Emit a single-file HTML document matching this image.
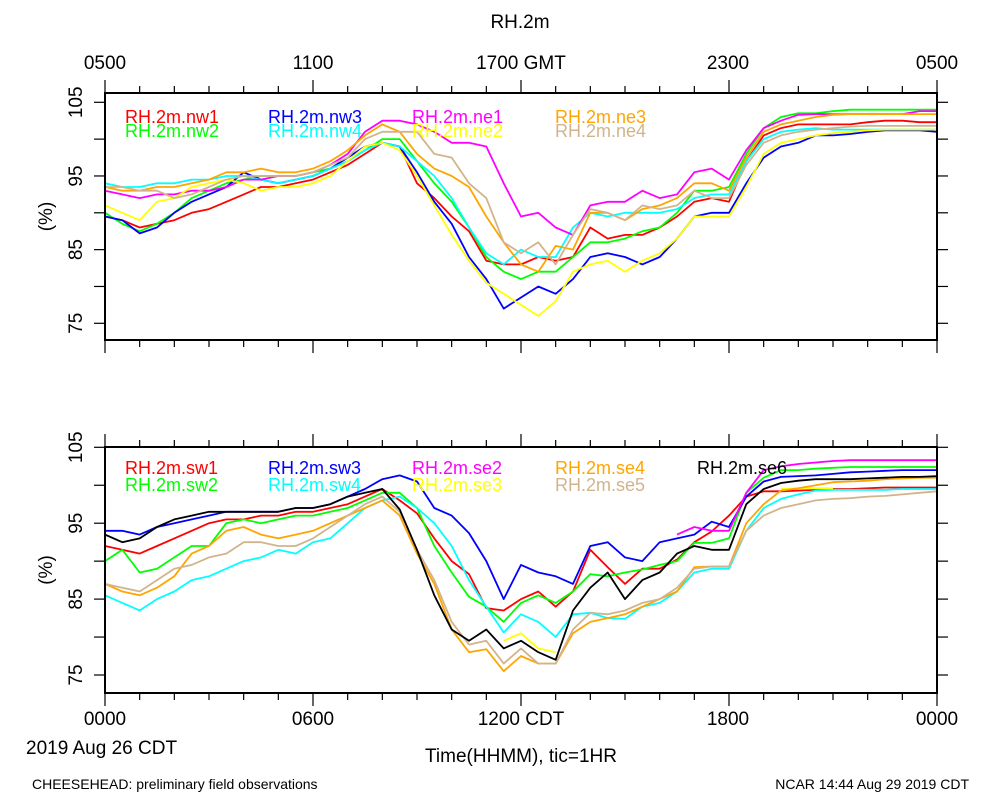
<!DOCTYPE html>
<html><head><meta charset="utf-8"><style>
body{margin:0;background:#fff;}
svg{display:block;font-family:"Liberation Sans",sans-serif;}
</style></head><body>
<svg id="chart" width="1000" height="800" viewBox="0 0 1000 800">
<text x="520" y="28" font-size="19" text-anchor="middle">RH.2m</text>
<g id="top"></g>
<g id="bot"></g>
<text x="105" y="725" font-size="19" text-anchor="middle">0000</text>
<text x="313" y="725" font-size="19" text-anchor="middle">0600</text>
<text x="521" y="725" font-size="19" text-anchor="middle">1200 CDT</text>
<text x="728" y="725" font-size="19" text-anchor="middle">1800</text>
<text x="937" y="725" font-size="19" text-anchor="middle">0000</text>
<text x="26" y="754" font-size="19">2019 Aug 26 CDT</text>
<text x="521" y="762" font-size="19" text-anchor="middle">Time(HHMM), tic=1HR</text>
<text x="32" y="789" font-size="14">CHEESEHEAD: preliminary field observations</text>
<text x="969" y="789" font-size="14" text-anchor="end">NCAR 14:44 Aug 29 2019 CDT</text>
<text x="105" y="69" font-size="19" text-anchor="middle">0500</text>
<text x="313" y="69" font-size="19" text-anchor="middle">1100</text>
<text x="521" y="69" font-size="19" text-anchor="middle">1700 GMT</text>
<text x="728" y="69" font-size="19" text-anchor="middle">2300</text>
<text x="937" y="69" font-size="19" text-anchor="middle">0500</text>
</svg>
<script>
const hours = [];
for (let i = 0; i <= 48; i++) hours.push(i / 2);
const yTicks = [105, 95, 85, 75];
const topNames = ["RH.2m.nw1","RH.2m.nw2","RH.2m.nw3","RH.2m.nw4","RH.2m.ne1","RH.2m.ne2","RH.2m.ne3","RH.2m.ne4"];
const botNames = ["RH.2m.sw1","RH.2m.sw2","RH.2m.sw3","RH.2m.sw4","RH.2m.se2","RH.2m.se3","RH.2m.se4","RH.2m.se5","RH.2m.se6"];
const topColors = ["#ff0000","#00ff00","#0000ff","#00ffff","#ff00ff","#ffff00","#ffa500","#d2b48c"];
const botColors = ["#ff0000","#00ff00","#0000ff","#00ffff","#ff00ff","#ffff00","#ffa500","#d2b48c","#000000"];
const nw1 = [89.5,89,88,88.5,89,90,90.5,91.5,92.5,93.5,93.5,94,94.5,95.5,96.5,98,99.5,99,94,92,89.5,87.5,83.5,83,83,84,83.5,84,88,86.5,87,87,88,89.5,91.5,92,91.5,97,100.5,101.5,102,102,102,102,102.3,102.5,102.5,102.3,102.3];
const nw2 = [90,88.5,87.5,88.5,90,92,93,94,94.5,95,95,95,95.5,96,97,98.5,100,100,97,94,91.5,88,84,82,81,82,82,84,86,86,86.5,87.5,88,90,93,93,93.5,98,101.5,103,103.5,103.5,103.8,104,104,104,104,104,104];
const nw3 = [89.5,89,87.2,88,90,91.5,92.5,93.5,95.5,94.5,94,94.5,95,96,97.5,99,99.5,99,95.5,91.5,88.5,84,81,77,78.5,80,79,81,84,84.5,84,83,84,86.5,89.5,90,90,94,97.5,99,99.5,100.5,100.5,100.7,101,101.2,101.2,101.2,101];
const nw4 = [94,93.5,93.5,94,94,94.5,94.5,95,95,94.5,94,94.5,95,96,97,98.5,99.5,99,97,95,92,88,84.5,83,85,84,84,88,90,89.5,90,90,90,90.5,92,92.5,92.5,97,100,101,101.3,101.5,101.3,101.3,101.3,101.3,101.3,101.3,101.3];
const ne1 = [93,92.5,92,92.5,92.5,93,93,93.5,94.5,94.5,95,95,95.5,96.5,98,101,102.5,102.5,102,101,99.5,99.5,99,94,89.5,90,88,87,91,91.5,91.5,93,92,92.5,95.5,96,94.5,98.5,101.5,102.5,103.3,103.4,103.4,103.4,103.4,103.4,103.4,103.8,103.8];
const ne2 = [91,90,89,91.5,92,93.5,94,94.5,94,93,93.5,93.5,94,95,97,99,99.5,98.5,95,91,87,83.5,80.5,79,77.5,76,78,82,83,83.5,82,83.5,84.5,86.5,89.5,89.5,89.5,93.5,98,99.5,100,100.5,100.8,101,101.2,101.3,101.3,101.3,101.3];
const ne3 = [93.5,93,93,93.5,93.5,94,94.5,95.5,95.5,96,95.5,95.5,96,97,98.5,100.5,102,101,98,96,95,93.5,89.5,86,83,82,85.5,85,90,90,89,90.5,91,92,94,94,93,97.5,101,102,102.5,103,103.3,103.4,103.4,103.4,103.4,103.4,103.4];
const ne4 = [93.5,93.5,93,93,92,92.5,93.5,94.5,95,95,95,95,95.5,96.5,97.5,100,101,101,101,98,97.5,94,92,86,84.5,86,83,87,90.5,90,89,91,90.5,91,93,92,92,96.5,99.5,100.5,101,101.3,101.5,101.7,101.8,101.8,101.8,101.8,101.8];
const sw1 = [92,91.5,91,92,93,94,95,95.5,95.5,96,96,96.5,96.5,97,97.5,98.5,99.5,98,96.3,93,90,88.3,83.8,83.5,85,86,84,86,91.5,89.2,87,89,89,90.2,92.5,93.9,96,98.5,99.2,99.2,99.3,99.4,99.5,99.5,99.6,99.7,99.7,99.7,99.7];
const sw2 = [90,91.5,88.5,89,90.5,92,92,95,95.5,95,95.5,96,96,96.5,97,98,99,99,97,92,88.5,85.3,84,82,84.5,85.5,84.5,86,88.3,88,88.5,88.9,89.5,90,92.4,92.4,93,99,101,102,102,102.2,102.3,102.4,102.4,102.4,102.4,102.4,102.4];
const sw3 = [94,94,93.5,94.5,95,95.5,96,96.5,96.5,96.5,96.5,97,97,97.5,98.5,99.5,100.8,101.3,100.5,97,96,93.7,90,85,89.5,88.5,88,87,92,92.5,90.5,90,92.5,93,93.5,95.2,94.5,98.5,100.5,101.1,101.2,101.3,101.5,101.7,101.8,101.9,102,102,102];
const sw4 = [85.5,84.5,83.5,85,86,87.5,88,89,90,90.5,91.5,91,92.5,93,95,97,98,98.5,97,95,92,87.5,84,80.6,83,82,80,83,83.2,82.5,82.4,84,84.5,86,88.5,89,89,94,97,98.2,98.8,99.3,99.4,99.4,99.4,99.4,99.5,99.5,99.5];
const se2 = [null,null,null,null,null,null,null,null,null,null,null,null,null,null,null,null,null,null,null,null,null,null,null,null,null,null,null,null,null,null,null,null,null,93.5,94.5,94,94,99,102,102.5,102.8,103,103.2,103.3,103.3,103.3,103.3,103.3,103.3];
const se3 = [null,null,null,null,null,null,null,null,null,null,null,null,null,null,null,null,null,null,null,null,null,null,null,79.5,80.5,78.5,78,null,null,null,null,null,null,null,null,null,null,null,null,99.5,99.6,99.6,99.6,null,null,null,null,null,null];
const se4 = [87,86,85.5,86.5,88,91,92,94,94.5,93.5,93,93.5,94,95,96,97,98,96,91,87,81,78,78.4,75.5,77.5,76.5,76.5,80.5,82,82.5,83,84,85,86,89.2,89.3,89.3,95,97.5,99.3,99.6,100,100.4,100.5,100.6,100.8,100.9,101,101];
const se5 = [87,86.5,86,87.5,89,89.5,90.5,91,92.5,92.5,92,92,93,94.5,96,97.5,98.5,96.5,91.5,87.5,82,79,79.5,76.5,78.5,76.5,76.5,81,83.2,83,83.5,84.5,85,86.5,89,89.3,89.3,94,96,97,97.5,98,98.2,98.3,98.5,98.6,98.8,99,99.2];
const se6 = [93.5,92.5,93,94.5,95.5,96,96.5,96.5,96.5,96.5,96.5,97,97,97.5,98.5,99,99.5,96.8,91.5,85.5,81,79.5,81,78.5,79.5,78,77,83.5,86.5,88.5,85,87.5,88.5,91,92,91.5,91.5,97.5,99.5,100.3,100.6,100.8,100.8,100.8,100.9,101,101.1,101.1,101.2];
const topSeries = [nw1,nw2,nw3,nw4,ne1,ne2,ne3,ne4];
const botSeries = [sw1,sw2,sw3,sw4,se2,se3,se4,se5,se6];

const NS = "http://www.w3.org/2000/svg";
const X0 = 105, X1 = 937;
function xScale(h){ return X0 + (X1 - X0) * h / 24; }
function mk(tag, attrs, parent){
  const e = document.createElementNS(NS, tag);
  for (const k in attrs) e.setAttribute(k, attrs[k]);
  parent.appendChild(e);
  return e;
}
function panel(g, top, bottom, y105, y75, names, colors, series, legendY, legendDy, prefix){
  const yScale = v => y105 + (105 - v) * (y75 - y105) / 30;
  const cid = prefix + "-clip";
  const defs = mk("defs", {}, g);
  const cp = mk("clipPath", {id: cid}, defs);
  mk("rect", {x: X0, y: top, width: X1 - X0, height: bottom - top}, cp);
  series.forEach((s, si) => {
    let d = "", pen = false;
    s.forEach((v, i) => {
      if (v === null) { pen = false; return; }
      d += (pen ? "L" : "M") + xScale(hours[i]).toFixed(1) + " " + yScale(v).toFixed(1);
      pen = true;
    });
    const p = mk("path", {d: d, fill: "none", stroke: colors[si], "stroke-width": 1.8, "stroke-linejoin": "round", "clip-path": "url(#" + cid + ")"}, g);
    
    
  });
  names.forEach((n, i) => {
    const col = Math.floor(i / 2), row = i % 2;
    const lx = [125, 268, 412, 555, 697][col];
    const t = mk("text", {x: lx, y: legendY + row * legendDy, "font-size": 18, fill: colors[i]}, g);
    t.textContent = n;
    
    
  });
  const fr = mk("rect", {x: X0, y: top, width: X1 - X0, height: bottom - top, fill: "none", stroke: "#000", "stroke-width": 2}, g);
  
  
  for (let h = 0; h <= 24; h++) {
    const x = xScale(h), L = (h % 6 === 0) ? 13 : 7;
    mk("line", {x1: x, y1: top, x2: x, y2: top - L, stroke: "#000", "stroke-width": 1.2}, g);
    mk("line", {x1: x, y1: bottom, x2: x, y2: bottom + L, stroke: "#000", "stroke-width": 1.2}, g);
  }
  for (let v = 75; v <= 105; v += 5) {
    const y = yScale(v);
    if (y < top - 1 || y > bottom + 1) continue;
    mk("line", {x1: X0, y1: y, x2: X0 - 11, y2: y, stroke: "#000", "stroke-width": 1.2}, g);
    mk("line", {x1: X1, y1: y, x2: X1 + 11, y2: y, stroke: "#000", "stroke-width": 1.2}, g);
  }
  yTicks.forEach(v => {
    const y = yScale(v);
    const t = mk("text", {x: 0, y: 0, "font-size": 19, "text-anchor": "middle", transform: "translate(82 " + y.toFixed(1) + ") rotate(-90)"}, g);
    t.textContent = String(v);
    
    
  });
  const yt = mk("text", {x: 0, y: 0, "font-size": 19, "text-anchor": "middle", transform: "translate(52 " + ((top + bottom) / 2).toFixed(1) + ") rotate(-90)"}, g);
  yt.textContent = "(%)";
  
  
}
panel(document.getElementById("top"), 93, 340, 102.3, 323.3, topNames, topColors, topSeries, 123, 14, "top");
panel(document.getElementById("bot"), 447, 693, 447.3, 675, botNames, botColors, botSeries, 474, 17, "bottom");
</script>
</body></html>
